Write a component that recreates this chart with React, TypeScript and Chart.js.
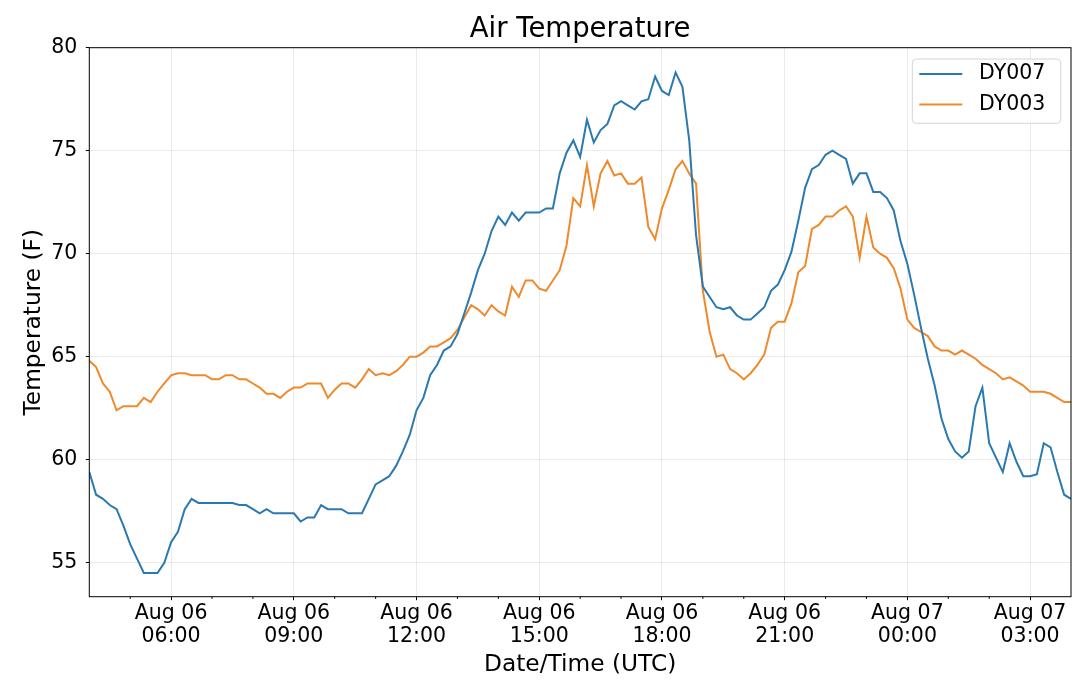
import { useEffect, useRef } from "react";
import { Chart, registerables } from "chart.js";

Chart.register(...registerables);

// 10-minute readings from Aug 06 04:00 UTC to Aug 07 04:00 UTC
const startHour = 4;
const stepMinutes = 10;

const dy007 = [
  59.4, 58.3, 58.1, 57.8, 57.6, 56.8, 55.9, 55.2, 54.5, 54.5,
  54.5, 55.0, 56.0, 56.5, 57.6, 58.1, 57.9, 57.9, 57.9, 57.9,
  57.9, 57.9, 57.8, 57.8, 57.6, 57.4, 57.6, 57.4, 57.4, 57.4,
  57.4, 57.0, 57.2, 57.2, 57.8, 57.6, 57.6, 57.6, 57.4, 57.4,
  57.4, 58.1, 58.8, 59.0, 59.2, 59.7, 60.4, 61.2, 62.4, 63.0,
  64.1, 64.6, 65.3, 65.5, 66.1, 67.1, 68.1, 69.2, 70.0, 71.1,
  71.8, 71.4, 72.0, 71.6, 72.0, 72.0, 72.0, 72.2, 72.2, 73.9,
  74.9, 75.5, 74.7, 76.5, 75.4, 76.0, 76.3, 77.2, 77.4, 77.2,
  77.0, 77.4, 77.5, 78.6, 77.9, 77.7, 78.8, 78.1, 75.5, 70.9,
  68.4, 67.9, 67.4, 67.3, 67.4, 67.0, 66.8, 66.8, 67.1, 67.4,
  68.2, 68.5, 69.2, 70.1, 71.6, 73.2, 74.1, 74.3, 74.8, 75.0,
  74.8, 74.6, 73.4, 73.9, 73.9, 73.0, 73.0, 72.7, 72.1, 70.6,
  69.5, 68.0, 66.4, 64.9, 63.6, 62.0, 61.0, 60.4, 60.1, 60.4,
  62.6, 63.5, 60.8, 60.1, 59.4, 60.8, 59.9, 59.2, 59.2, 59.3,
  60.8, 60.6, 59.4, 58.3, 58.1,
];

const dy003 = [
  64.8, 64.5, 63.7, 63.3, 62.4, 62.6, 62.6, 62.6, 63.0, 62.8,
  63.3, 63.7, 64.1, 64.2, 64.2, 64.1, 64.1, 64.1, 63.9, 63.9,
  64.1, 64.1, 63.9, 63.9, 63.7, 63.5, 63.2, 63.2, 63.0, 63.3,
  63.5, 63.5, 63.7, 63.7, 63.7, 63.0, 63.4, 63.7, 63.7, 63.5,
  63.9, 64.4, 64.1, 64.2, 64.1, 64.3, 64.6, 65.0, 65.0, 65.2,
  65.5, 65.5, 65.7, 65.9, 66.3, 66.9, 67.5, 67.3, 67.0, 67.5,
  67.2, 67.0, 68.4, 67.9, 68.7, 68.7, 68.3, 68.2, 68.7, 69.2,
  70.4, 72.7, 72.3, 74.3, 72.3, 73.9, 74.5, 73.8, 73.9, 73.4,
  73.4, 73.7, 71.3, 70.7, 72.2, 73.1, 74.1, 74.5, 73.9, 73.4,
  68.2, 66.2, 65.0, 65.1, 64.4, 64.2, 63.9, 64.2, 64.6, 65.1,
  66.4, 66.7, 66.7, 67.6, 69.1, 69.4, 71.2, 71.4, 71.8, 71.8,
  72.1, 72.3, 71.8, 69.8, 71.8, 70.3, 70.0, 69.8, 69.3, 68.3,
  66.8, 66.4, 66.2, 66.0, 65.5, 65.3, 65.3, 65.1, 65.3, 65.1,
  64.9, 64.6, 64.4, 64.2, 63.9, 64.0, 63.8, 63.6, 63.3, 63.3,
  63.3, 63.2, 63.0, 62.8, 62.8,
];

const seriesNames = ["DY007", "DY003"];
const seriesColors = ["#2a79b0", "#ee8a2b"];

const xTickHours = [6, 9, 12, 15, 18, 21, 24, 27];
const xTickLabels = [
  ["Aug 06", "06:00"],
  ["Aug 06", "09:00"],
  ["Aug 06", "12:00"],
  ["Aug 06", "15:00"],
  ["Aug 06", "18:00"],
  ["Aug 06", "21:00"],
  ["Aug 07", "00:00"],
  ["Aug 07", "03:00"],
];
const yTicks = [55, 60, 65, 70, 75, 80];

const FONT = "'DejaVu Sans', Verdana, sans-serif";
const endHour = startHour + ((dy007.length - 1) * stepMinutes) / 60;

const toPoints = (values: number[]) =>
  values.map((v, i) => ({ x: startHour + (i * stepMinutes) / 60, y: v }));

// frame, hourly minor ticks and the in-plot legend
const framePlugin = {
  id: "frame",
  afterDraw(chart: any) {
    const { ctx, chartArea: a } = chart;
    const xs = chart.scales.x;
    ctx.save();
    ctx.strokeStyle = "#000";
    ctx.lineWidth = 1;

    ctx.beginPath();
    for (let h = startHour + 1; h < endHour; h++) {
      if (xTickHours.includes(h)) continue;
      const px = xs.getPixelForValue(h);
      ctx.moveTo(px, a.bottom);
      ctx.lineTo(px, a.bottom + 2.2);
    }
    ctx.stroke();
    ctx.strokeRect(a.left, a.top, a.right - a.left, a.bottom - a.top);

    // legend box
    const w = 148.4;
    const h = 64.3;
    const left = a.right - 10.3 - w;
    const top = a.top + 11.3;
    ctx.beginPath();
    ctx.roundRect(left, top, w, h, 4);
    ctx.fillStyle = "rgba(255,255,255,0.8)";
    ctx.fill();
    ctx.strokeStyle = "#d4d4d4";
    ctx.stroke();

    ctx.font = `20.5px ${FONT}`;
    ctx.textBaseline = "middle";
    ctx.textAlign = "left";
    chart.data.datasets.forEach((ds: any, i: number) => {
      const y = top + 15 + i * 30.5;
      ctx.beginPath();
      ctx.strokeStyle = ds.borderColor;
      ctx.lineWidth = 2;
      ctx.moveTo(left + 7, y);
      ctx.lineTo(left + 50, y);
      ctx.stroke();
      ctx.fillStyle = "#000";
      ctx.fillText(ds.label, left + 66.7, y);
    });
    ctx.restore();
  },
};

export default function App() {
  const canvasRef = useRef<HTMLCanvasElement>(null);

  useEffect(() => {
    document.body.style.margin = "0";
    if (!canvasRef.current) return;

    const chart = new Chart(canvasRef.current, {
      type: "line",
      data: {
        datasets: [dy007, dy003].map((values, i) => ({
          label: seriesNames[i],
          data: toPoints(values),
          borderColor: seriesColors[i],
          backgroundColor: seriesColors[i],
          borderWidth: 2,
          pointRadius: 0,
          tension: 0,
          fill: false,
        })),
      },
      options: {
        animation: false,
        responsive: true,
        maintainAspectRatio: false,
        layout: { padding: { left: 0, right: 9, top: 0, bottom: 0 } },
        plugins: {
          legend: { display: false },
          tooltip: { enabled: false },
          title: {
            display: true,
            text: "Air Temperature",
            color: "#000",
            fullSize: false,
            font: { family: FONT, size: 27.5, weight: "normal", lineHeight: 1.2 },
            padding: { top: 13.8, bottom: 0.9 },
          },
        },
        scales: {
          x: {
            type: "linear",
            min: startHour,
            max: endHour,
            afterBuildTicks: (s: any) => {
              s.ticks = xTickHours.map((v) => ({ value: v }));
            },
            afterFit: (s: any) => {
              s.height = 94.3;
            },
            border: { display: false },
            grid: {
              color: "rgba(0,0,0,0.08)",
              tickColor: "#000",
              tickLength: 3.5,
            },
            ticks: {
              color: "#000",
              autoSkip: false,
              maxRotation: 0,
              padding: 2.3,
              font: { family: FONT, size: 20.5, lineHeight: 1.122 },
              callback: (v: any) => {
                const i = xTickHours.indexOf(Number(v));
                return i >= 0 ? xTickLabels[i] : "";
              },
            },
            title: {
              display: true,
              text: "Date/Time (UTC)",
              color: "#000",
              font: { family: FONT, size: 23.3, lineHeight: 1.2 },
              padding: { top: 0, bottom: 12.3 },
            },
          },
          y: {
            type: "linear",
            min: 53.35,
            max: 80,
            afterBuildTicks: (s: any) => {
              s.ticks = yTicks.map((v) => ({ value: v }));
            },
            afterFit: (s: any) => {
              s.width = 89.3;
            },
            border: { display: false },
            grid: {
              color: "rgba(0,0,0,0.08)",
              tickColor: "#000",
              tickLength: 3.5,
            },
            ticks: {
              color: "#000",
              padding: 8.5,
              font: { family: FONT, size: 20.5 },
            },
            title: {
              display: true,
              text: "Temperature (F)",
              color: "#000",
              font: { family: FONT, size: 23.3, lineHeight: 1.2 },
              padding: { top: 20.4, bottom: 0 },
            },
          },
        },
      },
      plugins: [framePlugin],
    });

    return () => chart.destroy();
  }, []);

  return (
    <div style={{ width: 1080, height: 691, position: "relative" }}>
      <canvas ref={canvasRef} />
    </div>
  );
}
